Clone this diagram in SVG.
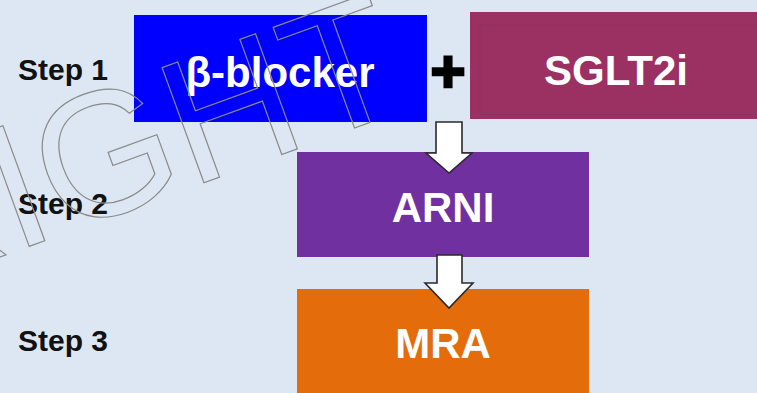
<svg xmlns="http://www.w3.org/2000/svg" width="757" height="393" viewBox="0 0 757 393">
<style>
.bg{fill:#dde7f3}
.box text,.lbl{font-family:"Liberation Sans",Arial,sans-serif;font-weight:bold}
.box text{fill:#ffffff;font-size:42px;text-anchor:middle}
.lbl{fill:#111111;font-size:30px}
.arrow{fill:#ffffff;stroke:#2a2a2a;stroke-width:1.6;stroke-linejoin:miter}
.wm{font-family:"Liberation Sans",Arial,sans-serif;font-size:178px;fill:none;stroke:#8a8a8a;stroke-width:1.2}
</style>
<rect class="bg" x="0" y="0" width="757" height="393"/>
<g id="step1"><text class="lbl" x="18" y="80">Step 1</text></g>
<g id="step2"><text class="lbl" x="18" y="214">Step 2</text></g>
<g id="step3"><text class="lbl" x="18" y="351">Step 3</text></g>
<g id="bblocker" class="box">
<rect x="134" y="15" width="293" height="107" fill="#0000ff"/>
<text x="280" y="87">β-blocker</text>
</g>
<g id="plus"><text x="448" y="92" font-family="Liberation Sans,Arial,sans-serif" font-weight="bold" font-size="60" text-anchor="middle" fill="#000" stroke="#000" stroke-width="2.5">+</text></g>
<g id="sglt2i" class="box">
<rect x="470" y="12" width="290" height="107" fill="#9b3163"/>
<rect x="480" y="25" width="280" height="90" fill="none" stroke="#953060" stroke-width="1.5"/>
<text x="616" y="85">SGLT2i</text>
</g>
<g id="arni" class="box">
<rect x="297" y="152" width="292" height="105" fill="#7030a0"/>
<text x="443" y="222">ARNI</text>
</g>
<g id="mra" class="box">
<rect x="297" y="289" width="292" height="110" fill="#e46c0a"/>
<text x="443" y="358">MRA</text>
</g>
<g id="connectors">
<path class="arrow" d="M436,122 H462 V153 H472 L449,173 L426,153 H436 Z"/>
<path class="arrow" d="M437,255 H462 V283 H473 L449,308 L425,283 H437 Z"/>
</g>
<g id="watermark" transform="translate(-107,296) rotate(-20)">
<text class="wm" x="0" y="0">RIGHT</text>
</g>
</svg>
